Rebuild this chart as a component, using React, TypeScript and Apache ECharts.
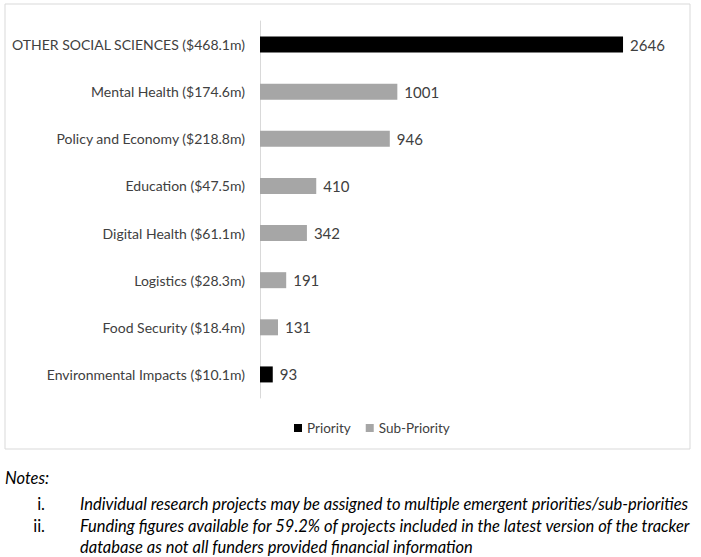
import React, { useEffect, useRef } from "react";
import * as echarts from "echarts";

const categories = [
  "OTHER SOCIAL SCIENCES ($468.1m)",
  "Mental Health ($174.6m)",
  "Policy and Economy ($218.8m)",
  "Education ($47.5m)",
  "Digital Health ($61.1m)",
  "Logistics ($28.3m)",
  "Food Security ($18.4m)",
  "Environmental Impacts ($10.1m)",
];
const priorityValues: (number | string)[] = [2646, "-", "-", "-", "-", "-", "-", 93];
const subPriorityValues: (number | string)[] = ["-", 1001, 946, 410, 342, 191, 131, "-"];
const seriesNames = ["Priority", "Sub-Priority"];
const notesTitle = "Notes:";
const notes = [
  ["i.", "Individual research projects may be assigned to multiple emergent priorities/sub-priorities"],
  ["ii.", "Funding figures available for 59.2% of projects included in the latest version of the tracker"],
  ["", "database as not all funders provided financial information"],
];

const FONT = "Lato, 'Liberation Sans', sans-serif";
const TEXT = "#404040";

export default function App() {
  const ref = useRef<HTMLDivElement>(null);
  useEffect(() => {
    if (!ref.current) return;
    const chart = echarts.init(ref.current, undefined, { renderer: "svg" });
    const noteYs = [504, 526, 547];
    const graphics: any[] = [
      {
        type: "rect",
        shape: { x: 5, y: 4, width: 685, height: 445 },
        style: { fill: "none", stroke: "#d9d9d9", lineWidth: 1 },
        silent: true,
      },
      {
        type: "text",
        x: 5,
        y: 478,
        style: { text: notesTitle, font: `italic 16.5px ${FONT}`, fill: "#000", verticalAlign: "middle" },
      },
    ];
    notes.forEach((n, i) => {
      if (n[0]) {
        graphics.push({
          type: "text",
          x: 45,
          y: noteYs[i],
          style: { text: n[0], font: `16.5px ${FONT}`, fill: "#000", verticalAlign: "middle", align: "right" },
        });
      }
      graphics.push({
        type: "text",
        x: 80,
        y: noteYs[i],
        style: { text: n[1], font: `italic 16.5px ${FONT}`, fill: "#000", verticalAlign: "middle" },
      });
    });
    const label = {
      show: true,
      position: "right",
      distance: 7,
      color: TEXT,
      fontSize: 15,
      fontFamily: FONT,
      formatter: (p: any) => String(p.value),
    };
    chart.setOption({
      animation: false,
      backgroundColor: "#fff",
      grid: { left: 260, top: 21, width: 411.6, height: 377, containLabel: false, outerBoundsMode: "none" },
      legend: {
        data: seriesNames,
        left: 289,
        top: 416,
        icon: "rect",
        itemWidth: 8,
        itemHeight: 8,
        itemGap: 15,
        textStyle: { color: TEXT, fontSize: 13.5, fontFamily: FONT },
      },
      xAxis: {
        type: "value",
        min: 0,
        max: 3000,
        show: false,
        splitLine: { show: false },
      },
      yAxis: {
        type: "category",
        data: categories,
        inverse: true,
        axisLine: { show: true, lineStyle: { color: "#d9d9d9" } },
        axisTick: { show: false },
        axisLabel: { color: TEXT, fontSize: 14, fontFamily: FONT, margin: 15 },
      },
      series: [
        {
          name: seriesNames[0],
          type: "bar",
          stack: "total",
          data: priorityValues,
          barWidth: 16,
          itemStyle: { color: "#000000" },
          label,
        },
        {
          name: seriesNames[1],
          type: "bar",
          stack: "total",
          data: subPriorityValues,
          barWidth: 16,
          itemStyle: { color: "#a6a6a6" },
          label,
        },
      ],
      graphic: graphics,
    });
    return () => chart.dispose();
  }, []);
  return (
    <div
      ref={ref}
      style={{ position: "fixed", left: 0, top: 0, width: 701, height: 557, background: "#fff" }}
    />
  );
}
